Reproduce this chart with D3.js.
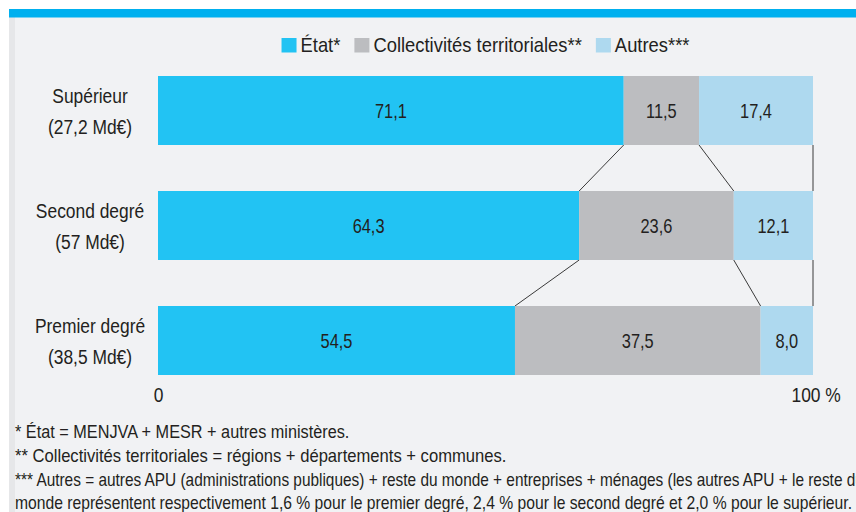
<!DOCTYPE html>
<html lang="fr">
  <head>
    <meta charset="utf-8">
    <title>Dépense d'éducation par financeur</title>
    <script type="text/javascript" src="https://cdn.jsdelivr.net/npm/d3@7"></script>
    <style>
      body { margin: 0; background: #ffffff; }
      svg { display: block; }
      text { font-family: "Liberation Sans", Arial, sans-serif; fill: #231f20; }
    </style>
  </head>
  <body>
    <script type="text/javascript">
    // categories, top to bottom
    var categories = ["Supérieur", "Second degré", "Premier degré"];
    var amounts = ["(27,2 Md€)", "(57 Md€)", "(38,5 Md€)"];

    // shares in % for each funder
    var etat = [71.1, 64.3, 54.5];
    var collectivites = [11.5, 23.6, 37.5];
    var autres = [17.4, 12.1, 8.0];

    var seriesNames = ["État*", "Collectivités territoriales**", "Autres***"];
    var seriesKeys = ["etat", "coll", "autres"];
    var colors = ["#22c3f3", "#bcbdc0", "#aed9ef"];

    var tickValues = [0, 100];
    var tickLabels = ["0", "100 %"];

    var notes = [
      "* État = MENJVA + MESR + autres ministères.",
      "** Collectivités territoriales = régions + départements + communes.",
      "*** Autres = autres APU (administrations publiques) + reste du monde + entreprises + ménages (les autres APU + le reste du",
      "monde représentent respectivement 1,6 % pour le premier degré, 2,4 % pour le second degré et 2,0 % pour le supérieur."
    ];

    var w = 856;
    var h = 512;

    // the original uses a condensed face: squeeze Liberation Sans horizontally
    var squeeze = 0.87;
    var place = function(sel, x, y, sx) {
      sel.attr("transform", "translate(" + x + "," + y + ") scale(" + sx + ",1)");
    };

    var svg = d3.select("body")
                .append("svg")
                .attr("width", w)
                .attr("height", h);

    // page frame: white margin, blue band on top, grey stripe on the left
    svg.append("rect").attr("x", 9).attr("y", 17).attr("width", w - 9).attr("height", h - 17).attr("fill", "#f1f2f4");
    svg.append("rect").attr("x", 9).attr("y", 17).attr("width", 6).attr("height", h - 17).attr("fill", "#e6e7e9");
    svg.append("rect").attr("x", 9).attr("y", 9).attr("width", w - 9).attr("height", 8.5).attr("fill", "#00b0ef");

    // build rows for the stack
    var rows = categories.map(function(c, i) {
      return { cat: c, etat: etat[i], coll: collectivites[i], autres: autres[i] };
    });
    var stacked = d3.stack().keys(seriesKeys)(rows);

    var xScale = d3.scaleLinear()
                   .domain([0, 100])
                   .range([158, 813]);
    var yScale = d3.scaleBand()
                   .domain(categories)
                   .range([76, 375])
                   .paddingInner(0.4)
                   .paddingOuter(0);

    // connector lines between bars at the cumulative boundaries
    var conn = svg.append("g").attr("stroke", "#3a3a3a").attr("stroke-width", 1);
    for (var i = 0; i < categories.length - 1; i++) {
      stacked.forEach(function(s) {
        conn.append("line")
            .attr("x1", xScale(s[i][1])).attr("y1", yScale(categories[i]) + yScale.bandwidth())
            .attr("x2", xScale(s[i + 1][1])).attr("y2", yScale(categories[i + 1]));
      });
    }

    // bars
    var groups = svg.selectAll("g.serie")
       .data(stacked)
       .enter()
       .append("g")
       .attr("class", "serie")
       .attr("fill", function(d, i) { return colors[i]; });

    groups.selectAll("rect")
       .data(function(d) { return d; })
       .enter()
       .append("rect")
       .attr("x", function(d) { return xScale(d[0]); })
       .attr("y", function(d) { return yScale(d.data.cat); })
       .attr("width", function(d) { return xScale(d[1]) - xScale(d[0]); })
       .attr("height", yScale.bandwidth());

    // value labels
    groups.selectAll("text")
       .data(function(d) { return d; })
       .enter()
       .append("text")
       .attr("text-anchor", "middle")
       .attr("font-size", 20)
       .each(function(d) {
         place(d3.select(this),
               (xScale(d[0]) + xScale(d[1])) / 2,
               yScale(d.data.cat) + yScale.bandwidth() / 2 + 7.5, 0.82);
       })
       .text(function(d) { return d3.format(".1f")(d[1] - d[0]).replace(".", ","); });

    // category labels (two lines)
    categories.forEach(function(c, i) {
      var cy = yScale(c) + yScale.bandwidth() / 2;
      var t1 = svg.append("text").attr("text-anchor", "middle").attr("font-size", 20).text(c);
      place(t1, 90, cy - 7.5, squeeze);
      var t2 = svg.append("text").attr("text-anchor", "middle").attr("font-size", 20).text(amounts[i]);
      place(t2, 90, cy + 23.5, squeeze);
    });

    // x axis with only 0 and 100 %
    var xAxis = d3.axisBottom(xScale)
                  .tickValues(tickValues)
                  .tickSize(0)
                  .tickPadding(13)
                  .tickFormat(function(d, i) { return tickLabels[i]; });
    var ax = svg.append("g")
       .attr("transform", "translate(0,375)")
       .call(xAxis);
    ax.select(".domain").remove();
    ax.attr("font-family", null).attr("font-size", null);
    ax.selectAll("text")
      .attr("font-size", 20)
      .attr("fill", "#231f20")
      .attr("transform", "scale(" + squeeze + ",1)");
    ax.selectAll(".tick").filter(function(d) { return d === 100; })
      .select("text").attr("dx", 3);

    // legend, centred over the plot
    var legend = svg.append("g");
    var lx = 0;
    seriesNames.forEach(function(name, i) {
      var item = legend.append("g").attr("transform", "translate(" + lx + ",0)");
      item.append("rect")
          .attr("x", 0).attr("y", 38)
          .attr("width", 15).attr("height", 14.5)
          .attr("fill", colors[i]);
      var t = item.append("text")
          .attr("font-size", 20)
          .text(name);
      place(t, 19, 52, 0.92);
      lx += 19 + t.node().getComputedTextLength() * 0.92 + 14;
    });
    var legendW = lx - 14;
    legend.attr("transform", "translate(" + ((xScale(0) + xScale(100)) / 2 - legendW / 2) + ",0)");

    // footnotes; the last line is set tight in the original, the third runs off the edge
    var noteY = [438, 462, 486, 509];
    var noteSx = [0.93, 0.95, 0.88, 0.8];
    notes.forEach(function(n, i) {
      var t = svg.append("text")
         .attr("font-size", 17.5)
         .text(n);
      place(t, 15, noteY[i], noteSx[i]);
      if (i === 3) {
        t.attr("textLength", 837 / noteSx[i]).attr("lengthAdjust", "spacingAndGlyphs");
      }
    });
    </script>
  </body>
</html>
